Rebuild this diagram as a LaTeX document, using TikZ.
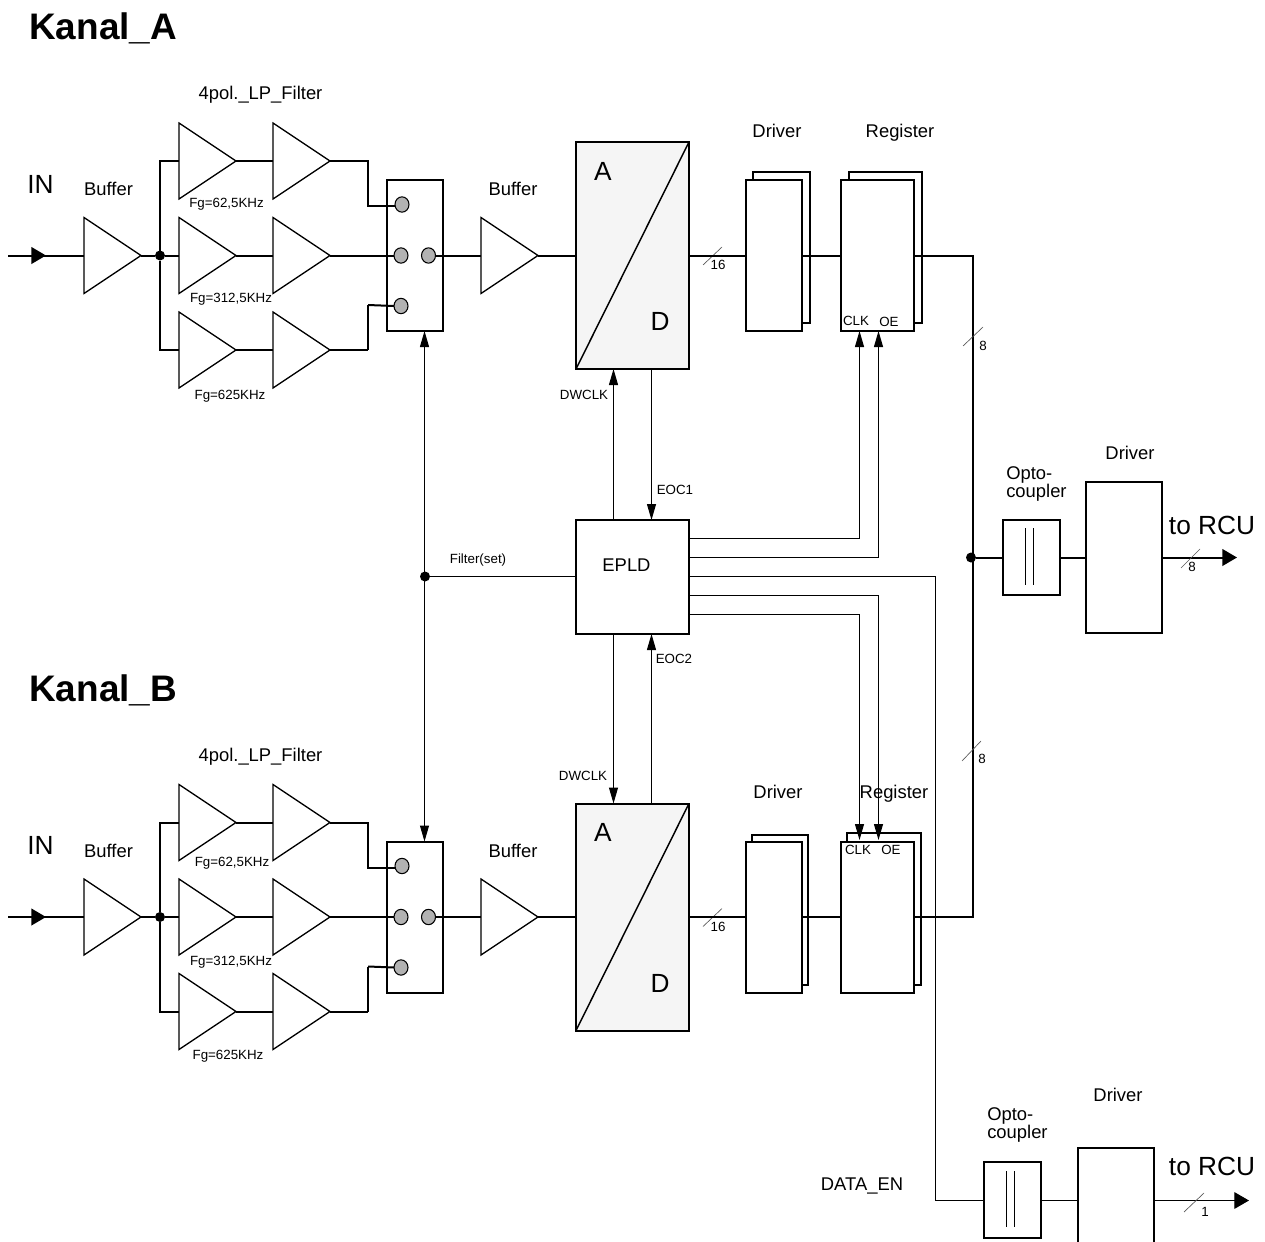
\documentclass[tikz,border=0pt]{standalone}
\usepackage{fontspec}
\setmainfont{Liberation Sans}
\usetikzlibrary{shapes.geometric,arrows.meta,calc}
\tikzset{
  x=0.75pt,y=-0.75pt,
  wire/.style={line width=1.5pt,black},
  thinw/.style={line width=0.75pt,black},
  slash/.style={line width=0.5pt,black!65},
  box/.style={draw=black,line width=1.5pt,fill=white,inner sep=0pt,outer sep=0pt,anchor=north west},
  adcbox/.style={box,fill=black!4},
  amp/.style={draw=black,line width=1pt,fill=white,isosceles triangle,isosceles triangle stretches,
    shape border rotate=0,inner sep=0pt,outer sep=0pt,minimum width=76pt*0.75,minimum height=57pt*0.75,anchor=lower side},
  contact/.style={ellipse,draw=black,line width=0.8pt,fill=black!30,inner sep=0pt,outer sep=0pt,minimum width=10.5pt,minimum height=11.5pt},
  jdot/.style={circle,fill=black,inner sep=0pt,outer sep=0pt,minimum size=7.5pt},
  sig/.style={thinw,-{Triangle[length=12pt,width=6.75pt]}},
  bigarrow/.style={-{Triangle[length=11pt,width=12.5pt]}},
  title/.style={font=\fontsize{27.7}{30}\selectfont\bfseries,anchor=west,inner sep=0pt},
  lab/.style={font=\fontsize{13.8}{16}\selectfont,inner sep=0pt},
  big/.style={font=\fontsize{19.7}{22}\selectfont,inner sep=0pt},
  rcu/.style={font=\fontsize{19.7}{22}\selectfont,inner sep=0pt},
  small/.style={font=\fontsize{10}{12}\selectfont,inner sep=0pt},
  opto/.style={font=\fontsize{13.8}{13.5}\selectfont,inner sep=0pt,anchor=north west,align=left},
}
\newcommand\bxnode[7][box]{\node[#1,minimum width=#5pt*0.75,minimum height=#6pt*0.75] (#2) at (#3,#4) {#7};}
\newcommand\filterbank[2]{%
\begin{scope}[shift={(0,#2)}]
  \coordinate (in#1) at (8,255.5);
  \node[amp] (buf#1) at (84,255.5) {};
  \node[jdot] (dot#1) at (160,255.5) {};
  \node[amp] (ta#1) at (179,161) {};
  \node[amp] (tb#1) at (273,161) {};
  \node[amp] (ma#1) at (179,255.5) {};
  \node[amp] (mb#1) at (273,255.5) {};
  \node[amp] (ba#1) at (179,350) {};
  \node[amp] (bb#1) at (273,350) {};
  \bxnode{sw#1}{387}{180}{56}{151}{}
  \node[contact] (c1#1) at (402,204.5) {};
  \node[contact] (c2#1) at (401,255.5) {};
  \node[contact] (c3#1) at (428.5,255.5) {};
  \node[contact] (c4#1) at (401,306) {};
  \node[amp] (bo#1) at (481,255.5) {};
  \bxnode[adcbox]{adc#1}{576}{142}{113}{227}{}
  \draw[line width=1.1pt] (adc#1.south west) -- (adc#1.north east);
  \coordinate (kt#1) at (368,206);
  \coordinate (kb#1) at (368,305);
  \draw[wire] (in#1) -- (buf#1.lower side);
  \draw[wire,bigarrow] (in#1) -- ++(38,0);
  \draw[wire] (buf#1.apex) -- (dot#1);
  \draw[wire] (dot#1) -- (ma#1.lower side);
  \draw[wire] (dot#1) |- (ta#1.lower side);
  \draw[wire] (dot#1) |- (ba#1.lower side);
  \draw[wire] (ta#1.apex) -- (tb#1.lower side);
  \draw[wire] (ma#1.apex) -- (mb#1.lower side);
  \draw[wire] (ba#1.apex) -- (bb#1.lower side);
  \draw[wire] (tb#1.apex) -| (kt#1) -- (c1#1.west |- kt#1);
  \draw[wire] (mb#1.apex) -- (c2#1);
  \draw[wire] (bb#1.apex) -- (bb#1.apex -| kb#1);
  \draw[line width=0.9pt] (bb#1.apex -| kb#1) -- (kb#1);
  \draw[wire] (kb#1) -- (c4#1.west);
  \draw[wire] (c3#1) -- (bo#1.lower side);
  \draw[wire] (bo#1.apex) -- (adc#1.west);
  \draw[slash] (703,265) -- (722,247);
  \node[small] (n16#1) at (718,265) {16};
  \node[big] (lA#1) at (603,171) {A};
  \node[big] (lD#1) at (660,321.5) {D};
  \node[lab] (lb1#1) at (108.5,189) {Buffer};
  \node[lab] (lb2#1) at (513,189) {Buffer};
  \node[lab] (lf#1) at (260.5,95) {4pol.\_LP\_Filter};
  \node[big] (lin#1) at (40.5,184) {IN};
\end{scope}}
\begin{document}
\begin{tikzpicture}
\useasboundingbox (0,0) rectangle (1265,1242);
\clip (0,0) rectangle (1265,1242);
\fill[white] (0,0) rectangle (1265,1242);

\node[title] (ka) at (29,28) {Kanal\_A};
\node[title] (kb) at (29,690) {Kanal\_B};

\filterbank{A}{0}
\filterbank{B}{661.5}

% drivers and registers
\bxnode{drvAb}{753}{172}{57}{151}{}
\bxnode{drvAf}{746}{180}{56}{151}{}
\bxnode{regAb}{849}{172}{73}{151}{}
\bxnode{regAf}{841}{180}{73}{151}{}
\bxnode{drvBb}{752}{835}{56}{150}{}
\bxnode{drvBf}{746}{842}{56}{151}{}
\bxnode{regBb}{847}{833}{74}{152}{}
\bxnode{regBf}{841}{842}{73}{151}{}

\node[lab] (ld1) at (777,131) {Driver};
\node[lab] (lr1) at (900,133) {Register};
\node[lab] (ld2) at (778,792) {Driver};
\node[lab] (lr2) at (894,794) {Register};
\node[small] (clkA) at (856,321) {CLK};
\node[small] (oeA) at (889,322) {OE};
\node[small] (clkB) at (858,849.5) {CLK};
\node[small] (oeB) at (891,849.5) {OE};

% EPLD
\bxnode{epld}{576}{520}{113}{114}{}
\node[font=\fontsize{13.8}{16}\selectfont,inner sep=0pt] (eplt) at (626.5,565) {EPLD};

\node[small] (dwa) at (584,395) {DWCLK};
\node[small] (eo1) at (675,490) {EOC1};
\node[small] (eo2) at (674,659) {EOC2};
\node[small] (dwb) at (583,776) {DWCLK};
\node[small] (fset) at (478,560) {Filter(set)};

% data path
\coordinate (busT) at (973,255.5);
\coordinate (busB) at (973,917);
\node[jdot] (busJ) at (971,557.5) {};
\draw[wire] (adcA.east) -- (drvAf.west |- adcA.east);
\draw[wire] (drvAf.east |- adcA.east) -- (regAf.west |- adcA.east);
\draw[wire] (regAf.east |- adcA.east) -- (busT) -- (busB) -- (regBf.east |- busB);
\draw[wire] (adcB.east) -- (drvBf.west |- adcB.east);
\draw[wire] (drvBf.east |- adcB.east) -- (regBf.west |- adcB.east);
\draw[slash] (963,346) -- (983,327);
\node[small] (n8a) at (983,346) {8};
\draw[slash] (962,761) -- (981,741);
\node[small] (n8b) at (982,759) {8};

% upper output
\bxnode{optA}{1003}{520}{57}{75}{}
\bxnode{drvO}{1086}{482}{76}{151}{}
\coordinate (outA) at (1237,557.5);
\draw[wire] (busJ) -- (optA.west |- busJ);
\draw[wire] (optA.east |- busJ) -- (drvO.west |- busJ);
\draw[wire,bigarrow] (drvO.east |- busJ) -- (outA);
\draw[thinw] (1025.5,528) -- (1025.5,585) (1033.5,528) -- (1033.5,585);
\draw[slash] (1181,568) -- (1200,549);
\node[small] (n8c) at (1192,567) {8};
\node[rcu] (rcuA) at (1212,525) {to RCU};
\node[lab] (ldo) at (1130,453) {Driver};
\node[opto] (opa) at (1006,466) {Opto-\\coupler};

% control
\draw[sig] (epld.north -| 613.5,0) -- (adcA.south -| 613.5,0);
\draw[sig] (adcA.south -| 651.5,0) -- (epld.north -| 651.5,0);
\draw[sig] (epld.south -| 613.5,0) -- (adcB.north -| 613.5,0);
\draw[sig] (adcB.north -| 651.5,0) -- (epld.south -| 651.5,0);
\coordinate (fset-j) at (424.5,576.5);
\node[jdot] (fdot) at (425,576.5) {};
\draw[thinw] (epld.west |- fset-j) -- (fdot);
\draw[thinw,{Triangle[length=12pt,width=6.75pt]}-{Triangle[length=12pt,width=6.75pt]}] (swA.south -| fset-j) -- (swB.north -| fset-j);
\coordinate (ca) at (859.5,331);
\coordinate (oa) at (878.5,331);
\coordinate (cb) at (859.5,840);
\coordinate (ob) at (878.5,840);
\draw[sig] (epld.east |- 0,538.5) -| (ca);
\draw[sig] (epld.east |- 0,557.5) -| (oa);
\draw[sig] (epld.east |- 0,614.5) -| (cb);
\draw[sig] (epld.east |- 0,595.5) -| (ob);

% lower output
\bxnode{optB}{984}{1162}{57}{76}{}
\bxnode{drvP}{1078}{1148}{76}{120}{}
\coordinate (outB) at (1249,1200.5);
\coordinate (dk) at (935.5,1200.5);
\draw[thinw] (epld.east |- 0,576.5) -| (dk) -- (optB.west |- dk);
\draw[thinw] (optB.east |- dk) -- (drvP.west |- dk);
\draw[thinw,bigarrow] (drvP.east |- dk) -- (outB);
\draw[thinw] (1006.5,1171) -- (1006.5,1227) (1014.5,1171) -- (1014.5,1227);
\draw[slash] (1184,1212) -- (1204,1193);
\node[small] (n1) at (1205,1212) {1};
\node[rcu] (rcuB) at (1212,1166) {to RCU};
\node[lab] (ldp) at (1118,1095) {Driver};
\node[opto] (opb) at (987,1107) {Opto-\\coupler};
\node[font=\fontsize{13.8}{16}\selectfont,inner sep=0pt] (den) at (862,1186) {DATA\_EN};

% filter labels
\node[small] (f1) at (226.5,204) {Fg=62,5KHz};
\node[small] (f2) at (231,299) {Fg=312,5KHz};
\node[small] (f3) at (230,396) {Fg=625KHz};
\node[small] (f4) at (232,863) {Fg=62,5KHz};
\node[small] (f5) at (231,962) {Fg=312,5KHz};
\node[small] (f6) at (228,1056) {Fg=625KHz};
\end{tikzpicture}
\end{document}
